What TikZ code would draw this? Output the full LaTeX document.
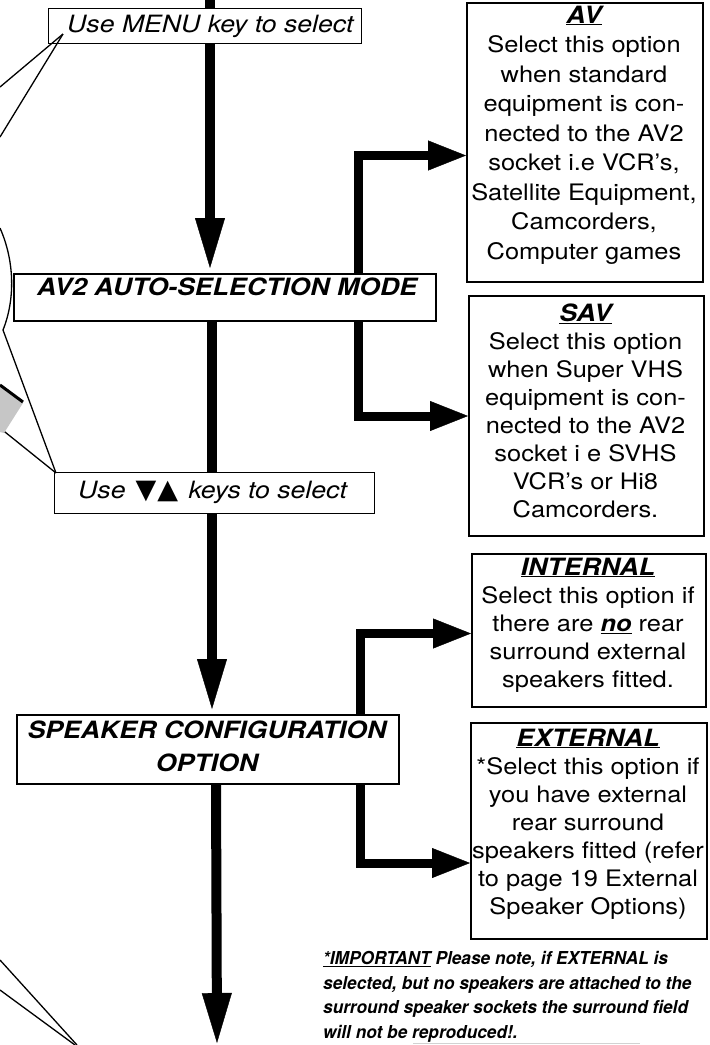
\documentclass[tikz,border=0pt]{standalone}
\usepackage{fontspec}
\setmainfont[FakeStretch=1.12]{TeX Gyre Heros}
\newfontfamily\notefont[FakeStretch=0.97]{TeX Gyre Heros}
\newfontfamily\symfont{DejaVu Sans}
\usetikzlibrary{arrows.meta,calc}
\pgfdeclarelayer{bg}
\pgfsetlayers{bg,main}
\begin{document}
\begin{tikzpicture}[x=1pt,y=-1pt,
  flow/.style={line width=10pt,-{Triangle[width=30pt,length=50pt,line width=0.4pt]}},
  side/.style={line width=9pt,-{Triangle[width=30pt,length=38pt,line width=0.4pt]}},
  thinbox/.style={draw,line width=1pt,fill=white,inner sep=0pt,anchor=north west},
  midbox/.style={draw,line width=1.8pt,fill=white,inner sep=0pt,anchor=north west},
  optbox/.style={draw,line width=2pt,fill=white,inner sep=0pt,anchor=north west},
  lefttxt/.style={inner sep=0pt,anchor=base west,font=\fontsize{23.8}{28}\selectfont\itshape},
  boldtxt/.style={inner sep=0pt,font=\fontsize{23.8}{33}\selectfont\bfseries\itshape},
  opttxt/.style={inner sep=0pt,anchor=north,align=center,font=\fontsize{22.7}{28}\selectfont},
  notetxt/.style={inner sep=0pt,anchor=north west,align=left,font=\notefont\fontsize{17.8}{24.8}\selectfont\bfseries\itshape},
  callout/.style={line width=1.3pt},
]
\useasboundingbox (0,0) rectangle (710,1045);

% columns / free ends
\coordinate (top) at (210,0);
\coordinate (colB) at (212,0);
\coordinate (colC) at (216,0);
\coordinate (end) at (217,1043);
\coordinate (sx1) at (358,0);
\coordinate (sx2) at (360,0);

% left boxes
\node[thinbox,minimum width=313pt,minimum height=35pt] (menu) at (48,8) {};
\node[midbox,minimum width=422pt,minimum height=47pt] (av2) at (13,273) {};
\node[thinbox,minimum width=320pt,minimum height=41pt] (use) at (54,472) {};
\node[midbox,minimum width=382pt,minimum height=69pt] (spk) at (16,714) {};

% right boxes
\node[optbox,minimum width=236pt,minimum height=279pt] (avb) at (466,2) {};
\node[optbox,minimum width=235pt,minimum height=240pt] (savb) at (468,295) {};
\node[optbox,minimum width=234pt,minimum height=153pt] (intb) at (471,553) {};
\node[optbox,minimum width=236pt,minimum height=216pt] (extb) at (470,722) {};

% background and main flow arrows (behind boxes)
\begin{pgfonlayer}{bg}
\fill[white] (0,0) rectangle (710,1045);
\draw[flow] (top) -- ($(top |- av2.north)+(0,-5)$);
\draw[flow] (colB |- av2.south) -- ($(colB |- spk.north)+(0,-5)$);
\draw[flow] (colC |- spk.south) -- (end);
\end{pgfonlayer}

% side arrows
\draw[side] (sx1 |- av2.north) |- ($(avb.west)+(0,13)$);
\draw[side] (sx1 |- av2.south) |- (savb.west);
\draw[side] (sx2 |- spk.north) |- ($(intb.west)+(0,3)$);
\draw[side] (sx2 |- spk.south) |- ($(extb.west)+(0,32)$);

% texts of left boxes
\node[lefttxt] (menut) at (67,32) {Use MENU key to select};
\node[boldtxt,anchor=base west] (av2t) at (37,295) {AV2 AUTO-SELECTION MODE};
\node[lefttxt] (uset) at (78,498) {Use\hspace{10pt}{\symfont\upshape\fontsize{27}{28}\selectfont ▼\hspace{1pt}▲}\hspace{3pt} keys to select};
\node[boldtxt,anchor=north,align=center] (spkt) at (207,720) {\rule{0pt}{18pt}SPEAKER CONFIGURATION\\OPTION};

% texts of option boxes
\node[opttxt,font=\fontsize{22.7}{29.5}\selectfont] (avt) at (584,3) {\rule{0pt}{20pt}{\fontsize{23.8}{28}\selectfont\bfseries\itshape\underline{AV}}\\
Select this option\\when standard\\equipment is con-\\nected to the AV2\\socket i.e VCR's,\\Satellite Equipment,\\Camcorders,\\Computer games};
\node[opttxt] (savt) at (585.5,301) {\rule{0pt}{20pt}{\fontsize{23.8}{28}\selectfont\bfseries\itshape\underline{SAV}}\\
Select this option\\when Super VHS\\equipment is con-\\nected to the AV2\\socket i e SVHS\\VCR's or Hi8\\Camcorders.};
\node[opttxt] (intt) at (588,555) {\rule{0pt}{20pt}{\fontsize{23.8}{28}\selectfont\bfseries\itshape\underline{INTERNAL}}\\
Select this option if\\there are {\bfseries\itshape\underline{no}} rear\\surround external\\speakers fitted.};
\node[opttxt] (extt) at (588,726) {\rule{0pt}{20pt}{\fontsize{23.8}{28}\selectfont\bfseries\itshape\underline{EXTERNAL}}\\
*Select this option if\\you have external\\rear surround\\speakers fitted (refer\\to page 19 External\\Speaker Options)};

% note
\node[notetxt] (note) at (323,950) {\rule{0pt}{14pt}\underline{*IMPORTANT} Please note, if EXTERNAL is\\selected, but no speakers are attached to the\\surround speaker sockets the surround field\\will not be reproduced!.};

% callout lines on the left
\coordinate (m1) at (63,34);
\coordinate (e1) at (0,87);
\coordinate (e2) at (0,137);
\coordinate (e3) at (0,228);
\coordinate (e4) at (3,330);
\coordinate (e5) at (0,428);
\coordinate (u1) at (56,473);
\coordinate (e6) at (0,960);
\coordinate (e7) at (0,990);
\coordinate (b1) at (77,1045);
\coordinate (b2) at (75,1045);
\draw[callout] (m1) -- (e1);
\draw[callout] (m1) -- (e2);
\draw[callout] (e3) .. controls (15,262) and (15,300) .. (e4) -- (u1);
\draw[callout] (e5) -- (u1);
\fill[gray!45] (0,386) -- (23,403) -- (4,433) -- (0,432) -- cycle;
\draw[line width=3pt] (0,385) -- (23,402);
\draw[callout] (e6) -- (b1);
\draw[callout] (e7) -- (b2);
\draw[gray!35,line width=1pt] (413,1043) -- (640,1043);
\end{tikzpicture}
\end{document}
